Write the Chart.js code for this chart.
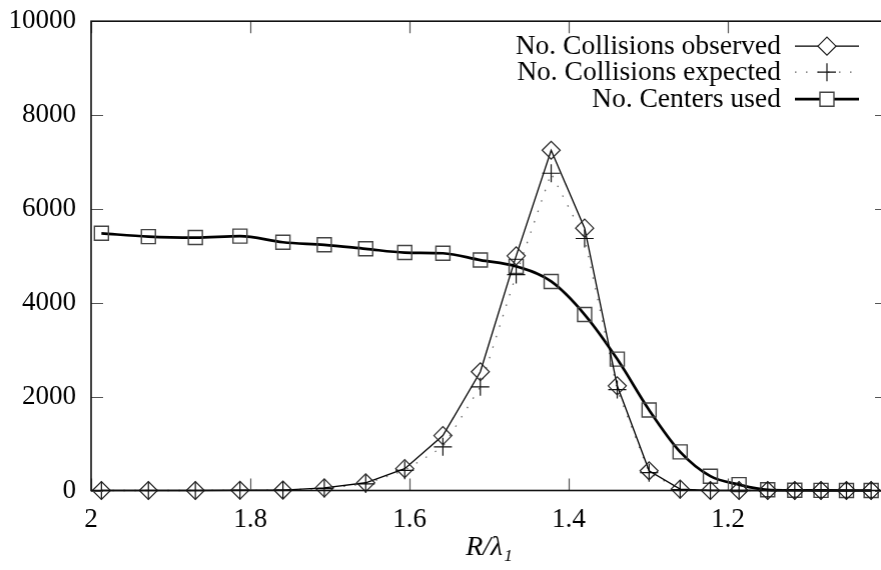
<!DOCTYPE html>
<html>
<head>
<meta charset="utf-8">
<script src="https://cdn.jsdelivr.net/npm/chart.js@4/dist/chart.umd.min.js"></script>
<style>
html,body{margin:0;padding:0;overflow:hidden;background:#fff;}
#wrap{width:881px;height:570px;overflow:hidden;position:relative;}
canvas{display:block;position:absolute;left:0;top:0;}
</style>
</head>
<body>
<div id="wrap"><canvas id="c" width="905" height="579"></canvas></div>
<script>
// R / lambda_1 positions of the samples
const radii = [1.987, 1.928, 1.869, 1.813, 1.759, 1.707, 1.655, 1.606, 1.558, 1.511, 1.466, 1.422, 1.380, 1.339, 1.299, 1.260, 1.222, 1.186, 1.150, 1.116, 1.083, 1.051, 1.020];
const collisionsObserved = [0, 0, 0, 5, 10, 55, 165, 465, 1170, 2530, 5000, 7250, 5590, 2230, 420, 30, 0, 0, 0, 0, 0, 0, 0];
const collisionsExpected = [0, 0, 0, 2, 8, 40, 140, 430, 930, 2210, 4600, 6760, 5370, 2150, 380, 20, 2, 0, 0, 0, 0, 0, 0];
const centersUsed = [5480, 5410, 5390, 5420, 5290, 5235, 5150, 5070, 5055, 4910, 4775, 4455, 3750, 2800, 1715, 823, 305, 125, 15, 5, 2, 0, 0];
const seriesLabels = ['No. Collisions observed', 'No. Collisions expected', 'No. Centers used'];
const xTickValues = [2, 1.8, 1.6, 1.4, 1.2, 1];
const yTickValues = [0, 2000, 4000, 6000, 8000, 10000];
const xTitle = 'R/λ₁';

const FONT = "'Liberation Serif', 'Times New Roman', serif";
const pts = arr => radii.map((x, i) => ({x: x, y: arr[i]}));

// target plot rectangle inside the 881x570 window
const TARGET = {left: 91, top: 21, right: 886, bottom: 491};

const placeCanvas = {
  id: 'placeCanvas',
  afterLayout(chart) {
    const a = chart.chartArea;
    const cv = chart.canvas;
    cv.style.left = (TARGET.left - a.left) + 'px';
    cv.style.top = (TARGET.top - a.top) + 'px';
  }
};

const frameAndTicks = {
  id: 'frameAndTicks',
  afterDatasetsDraw(chart) {
    const {ctx, chartArea: a, scales} = chart;
    ctx.save();
    ctx.strokeStyle = '#555';
    ctx.lineWidth = 1.2;
    const L = 12;
    scales.x.ticks.forEach(t => {
      const px = Math.round(scales.x.getPixelForValue(t.value)) + 0.5;
      ctx.beginPath();
      ctx.moveTo(px, a.bottom); ctx.lineTo(px, a.bottom - L);
      ctx.moveTo(px, a.top); ctx.lineTo(px, a.top + L);
      ctx.stroke();
    });
    scales.y.ticks.forEach(t => {
      const py = Math.round(scales.y.getPixelForValue(t.value)) + 0.5;
      ctx.beginPath();
      ctx.moveTo(a.left, py); ctx.lineTo(a.left + L, py);
      ctx.moveTo(a.right, py); ctx.lineTo(a.right - L, py);
      ctx.stroke();
    });
    ctx.strokeStyle = '#111';
    ctx.lineWidth = 1.6;
    ctx.strokeRect(a.left, a.top, a.right - a.left, a.bottom - a.top);
    ctx.restore();
  },
  afterDraw(chart) {
    const {ctx, chartArea: a} = chart;
    ctx.save();
    const textRight = a.left + 689, x0 = a.left + 703, x1 = a.left + 767, xm = a.left + 735;
    const rows = [a.top + 25, a.top + 51, a.top + 78];
    chart.data.datasets.forEach((ds, i) => {
      const y = rows[i];
      ctx.font = '27.5px ' + FONT;
      ctx.fillStyle = '#000';
      ctx.textAlign = 'right';
      ctx.textBaseline = 'middle';
      ctx.fillText(ds.label, textRight, y + 1);
      ctx.save();
      ctx.strokeStyle = ds.borderColor;
      ctx.lineWidth = ds.borderWidth;
      ctx.setLineDash(ds.borderDash || []);
      ctx.beginPath();
      ctx.moveTo(x0, y); ctx.lineTo(x1, y);
      ctx.stroke();
      ctx.restore();
      ctx.save();
      ctx.strokeStyle = ds.pointBorderColor;
      ctx.fillStyle = 'rgba(255,255,255,1)';
      ctx.lineWidth = ds.pointBorderWidth;
      Chart.helpers.drawPoint(ctx, {pointStyle: ds.pointStyle, radius: ds.pointRadius, borderWidth: ds.pointBorderWidth, rotation: 0}, xm, y);
      ctx.restore();
    });
    ctx.restore();
  }
};

const chart = new Chart(document.getElementById('c'), {
  type: 'line',
  data: {
    datasets: [
      {
        label: seriesLabels[0],
        data: pts(collisionsObserved),
        borderColor: '#000',
        borderWidth: 1.3,
        tension: 0,
        pointStyle: 'rectRot',
        pointRadius: 9,
        pointBorderColor: '#222',
        pointBackgroundColor: 'rgba(0,0,0,0)',
        pointBorderWidth: 1.2,
        clip: false
      },
      {
        label: seriesLabels[1],
        data: pts(collisionsExpected),
        borderColor: '#666',
        borderWidth: 1.3,
        borderDash: [1.5, 9.5],
        tension: 0,
        pointStyle: 'cross',
        pointRadius: 9,
        pointBorderColor: '#111',
        pointBackgroundColor: 'rgba(0,0,0,0)',
        pointBorderWidth: 1.2,
        clip: false
      },
      {
        label: seriesLabels[2],
        data: pts(centersUsed),
        borderColor: '#000',
        borderWidth: 2.7,
        cubicInterpolationMode: 'monotone',
        pointStyle: 'rect',
        pointRadius: 9.9,
        pointBorderColor: '#444',
        pointBackgroundColor: 'rgba(0,0,0,0)',
        pointBorderWidth: 1.4,
        clip: false
      }
    ]
  },
  options: {
    responsive: false,
    animation: false,
    devicePixelRatio: 1,
    layout: {padding: {top: 0, right: 0, left: 0, bottom: 0}},
    plugins: {legend: {display: false}, tooltip: {enabled: false}},
    scales: {
      x: {
        type: 'linear',
        reverse: true,
        min: 1, max: 2,
        afterBuildTicks: s => { s.ticks = xTickValues.map(v => ({value: v})); },
        afterFit: s => { s.height = 79; },
        grid: {display: false, drawTicks: false},
        border: {display: false},
        ticks: {
          font: {family: FONT, size: 27},
          color: '#000',
          padding: 13,
          maxRotation: 0,
          autoSkip: false,
          callback: v => String(v)
        },
        title: {
          display: true,
          text: xTitle,
          font: {family: FONT, size: 28, style: 'italic'},
          color: '#000',
          padding: {top: 0, bottom: 5}
        }
      },
      y: {
        min: 0, max: 10000,
        afterBuildTicks: s => { s.ticks = yTickValues.map(v => ({value: v})); },
        afterFit: s => { s.width = 91; },
        grid: {display: false, drawTicks: false},
        border: {display: false},
        ticks: {
          font: {family: FONT, size: 27},
          color: '#000',
          padding: 15,
          callback: v => String(v)
        }
      }
    }
  },
  plugins: [placeCanvas, frameAndTicks]
});

// adjust canvas size so that the plot rectangle has the target size
(function fit() {
  for (let k = 0; k < 3; k++) {
    const a = chart.chartArea;
    const dw = (TARGET.right - TARGET.left) - (a.right - a.left);
    const dh = (TARGET.bottom - TARGET.top) - (a.bottom - a.top);
    if (Math.abs(dw) < 0.5 && Math.abs(dh) < 0.5) break;
    chart.resize(chart.width + dw, chart.height + dh);
  }
})();
</script>
</body>
</html>
